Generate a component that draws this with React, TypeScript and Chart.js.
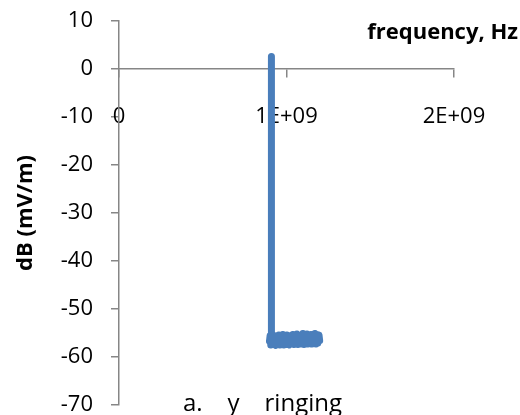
import React, { useEffect, useRef } from "react";
import { Chart, registerables } from "chart.js";

Chart.register(...registerables);

const freqHz: number[] = [
  0.91e9, 0.91e9,
  0.898e9, 0.902e9, 0.906e9, 0.910e9, 0.915e9, 0.920e9, 0.925e9, 0.930e9, 0.936e9, 0.942e9,
  0.948e9, 0.954e9, 0.960e9, 0.966e9, 0.972e9, 0.978e9, 0.984e9, 0.990e9, 0.996e9, 1.002e9,
  1.008e9, 1.014e9, 1.020e9, 1.026e9, 1.032e9, 1.038e9, 1.044e9, 1.050e9, 1.056e9, 1.062e9,
  1.068e9, 1.074e9, 1.080e9, 1.086e9, 1.092e9, 1.098e9, 1.104e9, 1.110e9, 1.116e9, 1.122e9,
  1.128e9, 1.134e9, 1.140e9, 1.146e9, 1.152e9, 1.158e9, 1.164e9, 1.170e9, 1.176e9, 1.182e9,
  1.188e9, 1.194e9, 1.198e9,
];
const dbValues: number[] = [
  2.6, -56.0,
  -56.8, -55.6, -57.5, -55.8, -57.4, -55.5, -57.3, -55.7, -57.6, -55.6,
  -57.4, -55.4, -57.5, -55.7, -57.4, -55.3, -57.5, -55.6, -57.3, -55.4,
  -57.4, -55.7, -57.5, -55.5, -57.2, -55.3, -57.4, -55.6, -57.3, -55.2,
  -57.4, -55.4, -57.2, -55.5, -57.3, -55.1, -57.4, -55.4, -57.2, -55.2,
  -57.3, -55.6, -57.2, -55.3, -57.3, -55.4, -57.2, -55.1, -57.3, -55.3,
  -57.1, -55.4, -56.6,
];

const xTickValues: number[] = [0, 1e9, 2e9];
const xTickLabels: string[] = ["0", "1E+09", "2E+09"];
const yMin = -70;
const yMax = 10;
const yStep = 10;

const xTitle = "frequency, Hz";
const yTitle = "dB (mV/m)";
const caption = "a.    y    ringing";

const FONT = "'Open Sans', sans-serif";
const AXIS_COLOR = "#868686";
const LINE_COLOR = "#4A7EBB";

const textPlugin = {
  id: "extraText",
  afterDraw(chart: any) {
    const ctx = chart.ctx;
    ctx.save();
    ctx.fillStyle = "#000";
    ctx.textBaseline = "alphabetic";
    ctx.font = `bold 22px ${FONT}`;
    ctx.textAlign = "right";
    ctx.fillText(xTitle, 518, 39);
    ctx.font = `24px ${FONT}`;
    ctx.textAlign = "left";
    ctx.fillText(caption, 183, 411);
    ctx.restore();
  },
};

export default function App() {
  const ref = useRef<HTMLCanvasElement | null>(null);
  useEffect(() => {
    if (!ref.current) return;
    const data = freqHz.map((x, i) => ({ x, y: dbValues[i] }));
    const chart = new Chart(ref.current, {
      type: "scatter",
      data: {
        datasets: [
          {
            data,
            showLine: true,
            borderColor: LINE_COLOR,
            backgroundColor: LINE_COLOR,
            borderWidth: 7,
            pointRadius: 0,
            borderCapStyle: "round",
            borderJoinStyle: "round",
            tension: 0,
          },
        ],
      },
      options: {
        animation: false,
        responsive: false,
        maintainAspectRatio: false,
        layout: { padding: { left: 0, right: 66, top: 21, bottom: 10 } },
        plugins: { legend: { display: false }, tooltip: { enabled: false } },
        scales: {
          x: {
            type: "linear",
            position: { y: 0 } as any,
            min: 0,
            max: 2e9,
            afterBuildTicks: (scale: any) => {
              scale.ticks = xTickValues.map((v) => ({ value: v }));
            },
            afterFit: (scale: any) => {
              scale.paddingLeft = 0;
              scale.paddingRight = 0;
            },
            ticks: {
              color: "#000",
              font: { family: FONT, size: 22 },
              padding: 27,
              maxRotation: 0,
              autoSkip: false,
              callback: (v: any) => {
                const i = xTickValues.indexOf(Number(v));
                return i >= 0 ? xTickLabels[i] : "";
              },
            },
            grid: {
              drawOnChartArea: false,
              drawTicks: true,
              tickLength: 8,
              color: AXIS_COLOR,
              lineWidth: 1.5,
            },
            border: { display: true, color: AXIS_COLOR, width: 1.5 },
          },
          y: {
            type: "linear",
            position: "left",
            min: yMin,
            max: yMax,
            afterFit: (scale: any) => {
              scale.width = 119;
              scale.paddingTop = 0;
              scale.paddingBottom = 0;
            },
            ticks: {
              stepSize: yStep,
              color: "#000",
              font: { family: FONT, size: 22 },
              padding: 18,
            },
            grid: {
              drawOnChartArea: false,
              drawTicks: true,
              tickLength: 8,
              color: AXIS_COLOR,
              lineWidth: 1.5,
            },
            border: { display: true, color: AXIS_COLOR, width: 1.5 },
            title: {
              display: true,
              text: yTitle,
              color: "#000",
              font: { family: FONT, size: 22, weight: "bold" },
              padding: { top: 13, bottom: 0 },
            },
          },
        },
      },
      plugins: [textPlugin],
    } as any);
    return () => chart.destroy();
  }, []);
  return (
    <div style={{ position: "fixed", left: 0, top: 0, width: 520, height: 415, background: "#fff" }}>
      <canvas ref={ref} width={520} height={415} style={{ width: 520, height: 415 }} />
    </div>
  );
}
